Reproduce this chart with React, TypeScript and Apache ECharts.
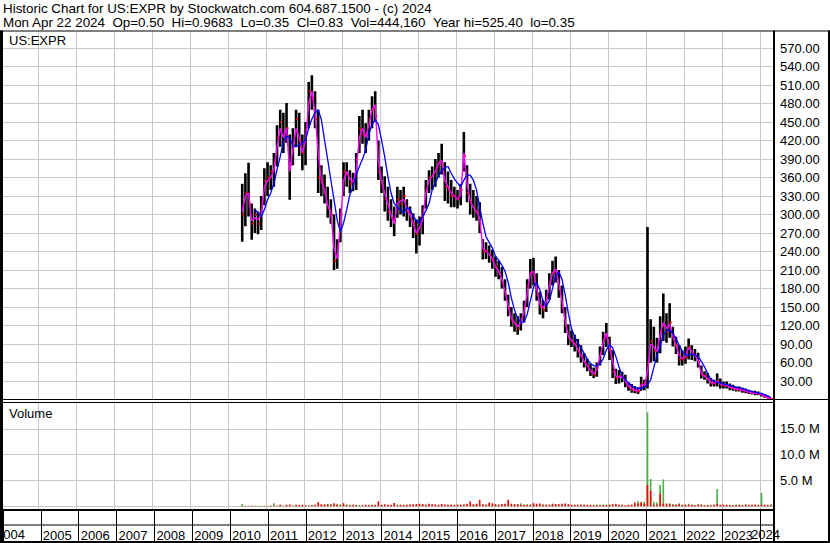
import React, { useEffect, useRef } from 'react';
import * as echarts from 'echarts';

// ---------------- data ----------------
// One entry per month, from May 2010 to Apr 2024 (168 months).
const startYear = 2010;
const startMonth = 5;

const monthHigh = [
  350, 367, 384, 318, 310, 305, 330, 375,
  385, 380, 400, 445, 470, 465, 481, 430, 440, 470, 465, 430,
  450, 515, 526, 500, 470, 380, 365, 345, 325, 300, 260, 310,
  385, 385, 372, 368, 400, 460, 470, 448, 470, 492, 500, 420,
  378, 362, 345, 325, 313, 345, 340, 345, 325, 313, 302, 292,
  297, 315, 356, 372, 378, 390, 400, 415, 385, 370, 356, 345,
  340, 350, 434, 380, 350, 340, 330, 320, 260, 255, 250, 243,
  232, 225, 215, 195, 170, 150, 140, 135, 140, 160, 195, 228,
  230, 205, 175, 162, 178, 205, 225, 232, 210, 185, 150, 122,
  112, 105, 98, 88, 75, 66, 58, 52, 60, 86, 110, 124,
  102, 80, 50, 48, 45, 40, 28, 25, 22, 20, 37, 32,
  280, 130, 118, 100, 135, 172, 140, 156, 118, 102, 88, 80,
  86, 99, 88, 82, 76, 55, 46, 43, 35, 32, 42, 34,
  29, 29, 26, 24, 21, 21, 19, 18, 16, 14, 14, 13,
  11, 8, 5, 2.5,
];

const monthLow = [
  256, 281, 297, 259, 270, 268, 275, 315,
  330, 340, 345, 378, 410, 400, 416, 324, 380, 410, 395, 372,
  380, 440, 470, 440, 335, 330, 318, 295, 285, 210, 212, 255,
  330, 345, 335, 338, 340, 400, 415, 400, 420, 440, 450, 356,
  335, 305, 290, 280, 265, 295, 300, 297, 290, 280, 262, 237,
  250, 268, 310, 335, 340, 345, 360, 365, 322, 318, 312, 312,
  310, 315, 370, 320, 300, 295, 290, 270, 227, 228, 222, 212,
  199, 195, 180, 160, 135, 118, 110, 105, 112, 125, 150, 180,
  185, 160, 138, 132, 142, 162, 185, 190, 165, 140, 108, 88,
  85, 78, 68, 60, 52, 46, 38, 35, 37, 55, 72, 85,
  64, 35, 25, 26, 28, 20, 14, 11, 10, 9, 14, 15,
  18, 60, 62, 60, 75, 95, 92, 100, 86, 74, 55, 55,
  58, 65, 64, 62, 52, 34, 32, 26, 21, 21, 21, 18,
  18, 18, 15, 14, 13, 13, 11, 10, 9, 8, 7, 7,
  5, 3, 2, 0.35,
];

const monthClose = [
  300, 335, 318, 285, 300, 285, 320, 355,
  360, 370, 385, 425, 450, 420, 440, 380, 415, 455, 420, 400,
  440, 500, 490, 455, 360, 355, 335, 310, 300, 225, 250, 300,
  370, 365, 350, 355, 390, 440, 430, 430, 455, 470, 460, 370,
  350, 325, 305, 295, 290, 325, 318, 330, 305, 300, 285, 268,
  280, 300, 340, 360, 365, 375, 385, 380, 345, 340, 330, 330,
  325, 340, 395, 335, 320, 310, 305, 285, 240, 240, 235, 225,
  215, 205, 190, 170, 148, 128, 122, 115, 130, 150, 185, 205,
  200, 170, 150, 145, 165, 190, 205, 205, 180, 150, 120, 100,
  95, 90, 78, 70, 60, 54, 45, 40, 52, 75, 95, 100,
  80, 45, 35, 38, 36, 28, 20, 16, 14, 13, 25, 22,
  60, 95, 80, 78, 110, 120, 110, 125, 100, 88, 65, 65,
  68, 85, 75, 70, 60, 40, 38, 32, 26, 26, 30, 24,
  23, 22, 19, 18, 16, 16, 15, 13, 12, 11, 10, 9,
  7, 4, 2.5, 0.83,
];

// magenta short moving average (same months)
const avgShort = [
  305, 330, 335, 290, 295, 292, 300, 345,
  355, 360, 372, 410, 440, 425, 440, 370, 405, 440, 425, 400,
  420, 480, 500, 465, 400, 355, 340, 315, 305, 245, 228, 285,
  355, 370, 358, 352, 372, 425, 440, 425, 445, 470, 478, 385,
  355, 335, 318, 300, 285, 318, 322, 325, 310, 300, 285, 270,
  278, 292, 335, 355, 362, 370, 382, 388, 355, 345, 335, 330,
  325, 332, 400, 350, 322, 312, 305, 295, 245, 240, 236, 228,
  215, 208, 195, 175, 152, 132, 124, 118, 125, 142, 172, 205,
  208, 180, 155, 148, 158, 185, 205, 212, 188, 160, 128, 102,
  96, 90, 82, 72, 62, 55, 47, 42, 48, 70, 92, 108,
  85, 62, 38, 36, 37, 30, 22, 18, 15, 14, 24, 23,
  45, 90, 85, 78, 105, 125, 115, 122, 102, 88, 72, 66,
  70, 84, 78, 72, 63, 42, 38, 34, 28, 26, 30, 25,
  24, 23, 20, 18, 17, 16, 15, 14, 12, 11, 10, 10,
  8, 5, 3, 1.5,
];

// blue long moving average, from Sep 2010 (4 months after the first bar)
const avgLongOffset = 4;
const avgLong = [
  308, 303, 297, 308,
  324, 335, 350, 373, 394, 418, 427, 424, 412, 410, 413, 416,
  421, 440, 455, 465, 470, 454, 421, 389, 356, 324, 291, 272,
  286, 308, 332, 345, 365, 378, 390, 405, 430, 446, 454, 446,
  421, 394, 362, 335, 318, 312, 308, 302, 312, 308, 297, 291,
  286, 297, 306, 318, 340, 352, 362, 372, 376, 378, 367, 358,
  351, 345, 356, 364, 364, 356, 340, 313, 286, 264, 255, 246,
  232, 226, 218, 208, 190, 165, 145, 132, 125, 126, 138, 160,
  182, 190, 178, 160, 152, 160, 180, 200, 207, 195, 170, 140,
  115, 102, 92, 84, 75, 66, 58, 55, 54, 58, 66, 80,
  89, 84, 70, 53, 38, 32, 27, 23, 19, 18, 18, 20,
  24, 32, 52, 72, 86, 104, 112, 113, 107, 99, 88, 78,
  72, 72, 74, 72, 70, 62, 53, 42, 33, 30, 28, 27,
  25, 24, 23, 21, 20, 19, 18, 16, 14, 13, 11.5, 10.5,
  9.5, 8, 6, 3,
];

// volume in millions: green (up) and red (down) bars, same months
const volUpM = [
  0.45, 0.1, 0.05, 0.1, 0.05, 0.1, 0.1, 0.05,
  0.1, 0.15, 0.6, 0.1, 0.2, 0.1, 0.1, 0.15, 0.1, 0.1, 0.1, 0.1,
  0.1, 0.2, 0.1, 0.2, 0.1, 0.3, 0.4, 0.5, 0.45, 0.3, 0.5, 0.4,
  0.3, 0.35, 0.3, 0.2, 0.3, 0.25, 0.2, 0.2, 0.3, 0.2, 0.25, 0.2,
  0.2, 0.15, 0.2, 0.25, 0.3, 0.35, 0.3, 0.3, 0.2, 0.2, 0.25, 0.2,
  0.2, 0.25, 0.3, 0.2, 0.2, 0.15, 0.2, 0.3, 0.2, 0.25, 0.35, 0.3,
  0.3, 0.35, 0.3, 0.2, 0.3, 0.25, 0.4, 0.3, 0.35, 0.3, 0.4, 0.3,
  0.3, 0.35, 0.4, 0.3, 0.4, 0.3, 0.35, 0.4, 0.6, 0.3, 0.4, 0.35,
  0.3, 0.25, 0.3, 0.35, 0.3, 0.3, 0.35, 0.3, 0.3, 0.25, 0.2, 0.3,
  0.25, 0.3, 0.25, 0.2, 0.3, 0.3, 0.25, 0.3, 0.35, 0.3, 0.35, 0.3,
  0.3, 0.35, 0.3, 0.2, 0.25, 0.15, 0.2, 0.3, 0.45, 1.0, 0.8, 0.9,
  18.2, 5.3, 0.9, 0.8, 4.1, 5.2, 0.6, 0.5, 0.4, 0.35, 0.6, 0.3,
  0.3, 0.5, 0.3, 0.25, 0.4, 0.3, 0.2, 0.25, 0.2, 0.25, 3.35, 0.2,
  0.2, 0.25, 0.3, 0.2, 0.35, 0.2, 0.3, 0.4, 0.2, 0.25, 0.2, 0.3,
  2.6, 0.3, 0.2, 0.4,
];

const volDownM = [
  0.1, 0.1, 0.1, 0.1, 0.1, 0.05, 0.05, 0.1,
  0.05, 0.1, 0.1, 0.1, 0.3, 0.1, 0.3, 0.35, 0.1, 0.3, 0.25, 0.3,
  0.2, 0.1, 0.2, 0.3, 0.8, 0.4, 0.3, 0.35, 0.3, 0.6, 0.3, 0.2,
  0.6, 0.2, 0.2, 0.3, 0.2, 0.1, 0.2, 0.3, 0.2, 0.3, 0.3, 0.95,
  0.3, 0.4, 0.3, 0.3, 0.65, 0.2, 0.3, 0.2, 0.3, 0.35, 0.4, 0.45,
  0.5, 0.45, 0.3, 0.5, 0.4, 0.35, 0.3, 0.45, 0.35, 0.3, 0.3, 0.25,
  0.3, 0.3, 0.35, 0.5, 0.95, 0.4, 0.5, 1.25, 0.4, 0.3, 0.75, 0.6,
  0.4, 0.3, 0.45, 0.5, 1.25, 0.5, 0.4, 0.4, 0.3, 0.3, 0.25, 0.3,
  0.6, 0.5, 0.55, 0.3, 0.3, 0.3, 0.5, 0.45, 0.4, 0.5, 0.55, 0.4,
  0.3, 0.3, 0.3, 0.35, 0.3, 0.25, 0.3, 0.2, 0.2, 0.2, 0.2, 0.25,
  0.3, 0.4, 0.5, 0.3, 0.3, 0.2, 0.3, 0.3, 0.75, 0.6, 0.8, 0.5,
  4.1, 3.0, 0.3, 0.3, 2.5, 0.5, 0.4, 0.5, 0.3, 0.3, 0.4, 0.3,
  0.3, 0.3, 0.3, 0.2, 0.3, 0.35, 0.2, 0.2, 0.2, 0.3, 0.5, 0.3,
  0.3, 0.3, 0.2, 0.25, 0.2, 0.3, 0.2, 0.3, 0.3, 0.3, 0.35, 0.2,
  0.3, 0.3, 0.3, 0.2,
];

// axes
const yearMin = 2004;
const yearMax = 2024.345;
const priceMax = 597;
const priceStep = 30;
const volMax = 20e6;
const volStep = 5e6;

// texts
const headerLine1 = 'Historic Chart for US:EXPR by Stockwatch.com 604.687.1500 - (c) 2024';
const headerFields = ['Mon Apr 22 2024', 'Op=0.50', 'Hi=0.9683', 'Lo=0.35', 'Cl=0.83', 'Vol=444,160', 'Year hi=525.40', 'lo=0.35'];
const symbolLabel = 'US:EXPR';
const volumeLabel = 'Volume';
const firstYearLabel = '2004';
const lastYearLabel = '2024';

// ---------------- chart ----------------
const FONT = '"Liberation Sans", Arial, sans-serif';
const GRID_GRAY = '#c8c8c8';

const monthPos = (i: number) => startYear + (startMonth - 1 + i + 0.5) / 12;

function buildOption() {
  const gl = -11.04;
  const gw = 784.04;
  const baseX = {
    type: 'value',
    min: yearMin,
    max: yearMax,
    interval: 1,
    axisLine: { show: false },
    axisTick: { show: false },
    axisLabel: { show: false },
  };

  const barData = monthHigh.map((h, i) => [monthPos(i), monthLow[i], h, monthClose[i]]);
  const shortData = avgShort.map((v, i) => [monthPos(i), v]);
  const longData = avgLong.map((v, i) => [monthPos(i + avgLongOffset), v]);
  const upData = volUpM.map((v, i) => [monthPos(i), v * 1e6]);
  const downData = volDownM.map((v, i) => [monthPos(i), v * 1e6]);

  const txt = (text: string, x: number, y: number, size: number, z = 90) => ({
    type: 'text',
    x,
    y,
    z,
    silent: true,
    style: {
      text,
      font: `${size}px ${FONT}`,
      fill: '#000',
      textVerticalAlign: 'middle',
      verticalAlign: 'middle',
      textAlign: 'left',
      align: 'left',
    },
  });
  const box = (x: number, y: number, width: number, height: number) => ({
    type: 'rect',
    z: 100,
    silent: true,
    shape: { x, y, width, height },
    style: { fill: '#000' },
  });

  return {
    animation: false,
    backgroundColor: '#fff',
    textStyle: { fontFamily: FONT },
    grid: [
      { left: gl, top: 31.5, width: gw, height: 368 },
      { left: gl, top: 403, width: gw, height: 103.3 },
      { left: gl, top: 402, width: gw, height: 108 },
      { left: gl, top: 510, width: gw, height: 31 },
    ],
    xAxis: [
      { ...baseX, gridIndex: 0, splitLine: { show: true, lineStyle: { color: GRID_GRAY, width: 1 } } },
      { ...baseX, gridIndex: 1, splitLine: { show: false } },
      { ...baseX, gridIndex: 2, splitLine: { show: true, lineStyle: { color: GRID_GRAY, width: 1 } } },
      {
        ...baseX,
        gridIndex: 3,
        splitLine: { show: true, lineStyle: { color: '#000', width: 1 } },
        axisLabel: {
          show: true,
          inside: true,
          margin: 6,
          align: 'left',
          verticalAlign: 'middle',
          padding: [0, 0, 0, 2],
          fontSize: 13,
          fontFamily: FONT,
          color: '#000',
          formatter: (v: number) =>
            Number.isInteger(v) && v > yearMin && v < 2024 ? String(v) : '',
        },
      },
    ],
    yAxis: [
      {
        type: 'value',
        gridIndex: 0,
        position: 'right',
        min: 0,
        max: priceMax,
        interval: priceStep,
        axisLine: { show: false },
        axisTick: { show: false },
        splitLine: { show: true, showMaxLine: false, lineStyle: { color: GRID_GRAY, width: 1 } },
        axisLabel: {
          margin: 7,
          fontSize: 13,
          fontFamily: FONT,
          color: '#000',
          formatter: (v: number) =>
            v > 0 && Math.abs(v / priceStep - Math.round(v / priceStep)) < 1e-6 ? v.toFixed(2) : '',
        },
      },
      {
        type: 'value',
        gridIndex: 1,
        position: 'right',
        min: 0,
        max: volMax,
        interval: volStep,
        axisLine: { show: false },
        axisTick: { show: false },
        splitLine: { show: true, showMaxLine: false, lineStyle: { color: GRID_GRAY, width: 1 } },
        axisLabel: {
          margin: 7,
          fontSize: 13,
          fontFamily: FONT,
          color: '#000',
          formatter: (v: number) => (v > 0 && v < volMax ? (v / 1e6).toFixed(1) + ' M' : ''),
        },
      },
      { type: 'value', gridIndex: 2, show: false, min: 0, max: 1 },
      { type: 'value', gridIndex: 3, show: false, min: 0, max: 1 },
    ],
    series: [
      {
        type: 'custom',
        xAxisIndex: 0,
        yAxisIndex: 0,
        clip: true,
        encode: { x: 0, y: [1, 2] },
        data: barData,
        renderItem: (params: any, api: any) => {
          const x = api.value(0);
          const pLow = api.coord([x, api.value(1)]);
          const pHigh = api.coord([x, api.value(2)]);
          const pClose = api.coord([x, api.value(3)]);
          const w = 2.6;
          return {
            type: 'group',
            children: [
              {
                type: 'rect',
                shape: { x: pLow[0] - w / 2, y: pHigh[1], width: w, height: Math.max(1, pLow[1] - pHigh[1]) },
                style: { fill: '#000' },
              },
              {
                type: 'rect',
                shape: { x: pClose[0], y: pClose[1] - 1, width: 2, height: 2 },
                style: { fill: '#ff0000' },
              },
            ],
          };
        },
        z: 2,
      },
      {
        type: 'line',
        xAxisIndex: 0,
        yAxisIndex: 0,
        data: shortData,
        symbol: 'none',
        showSymbol: false,
        lineStyle: { color: '#ff00ff', width: 1.4 },
        itemStyle: { color: '#ff00ff' },
        z: 3,
      },
      {
        type: 'line',
        xAxisIndex: 0,
        yAxisIndex: 0,
        data: longData,
        symbol: 'none',
        showSymbol: false,
        lineStyle: { color: '#0000ff', width: 1.3 },
        itemStyle: { color: '#0000ff' },
        z: 4,
      },
      {
        type: 'bar',
        xAxisIndex: 1,
        yAxisIndex: 1,
        data: upData,
        barWidth: 1.6,
        barGap: '-100%',
        itemStyle: { color: '#44b244' },
        z: 2,
      },
      {
        type: 'bar',
        xAxisIndex: 1,
        yAxisIndex: 1,
        data: downData,
        barWidth: 1.6,
        barGap: '-100%',
        itemStyle: { color: '#ff0000' },
        z: 3,
      },
    ],
    graphic: {
      elements: [
        txt(headerLine1, 3, 8.3, 13.4),
        txt(headerFields.join('\u00a0\u00a0'), 3, 22.3, 13.4),
        txt(symbolLabel, 9, 40.5, 13),
        txt(volumeLabel, 9, 413.7, 13),
        txt(firstYearLabel, -4, 534.7, 13),
        txt(lastYearLabel, 751, 534.7, 13),
        // frame
        box(0, 30.5, 830, 1),
        box(0, 30.5, 3, 512.5),
        box(773, 30.5, 2, 512.5),
        box(828, 30.5, 2, 512.5),
        box(0, 541, 830, 2),
        box(0, 399, 830, 1),
        box(0, 402, 775, 1),
        box(0, 509, 775, 2),
        box(0, 524.5, 775, 1),
      ],
    },
  };
}

export default function App() {
  const ref = useRef<HTMLDivElement | null>(null);
  useEffect(() => {
    if (!ref.current) return;
    const chart = echarts.init(ref.current, undefined, { renderer: 'svg' });
    chart.setOption(buildOption() as any);
    return () => chart.dispose();
  }, []);
  return (
    <div
      ref={ref}
      style={{ position: 'fixed', left: 0, top: 0, width: 830, height: 543, background: '#fff' }}
    />
  );
}
